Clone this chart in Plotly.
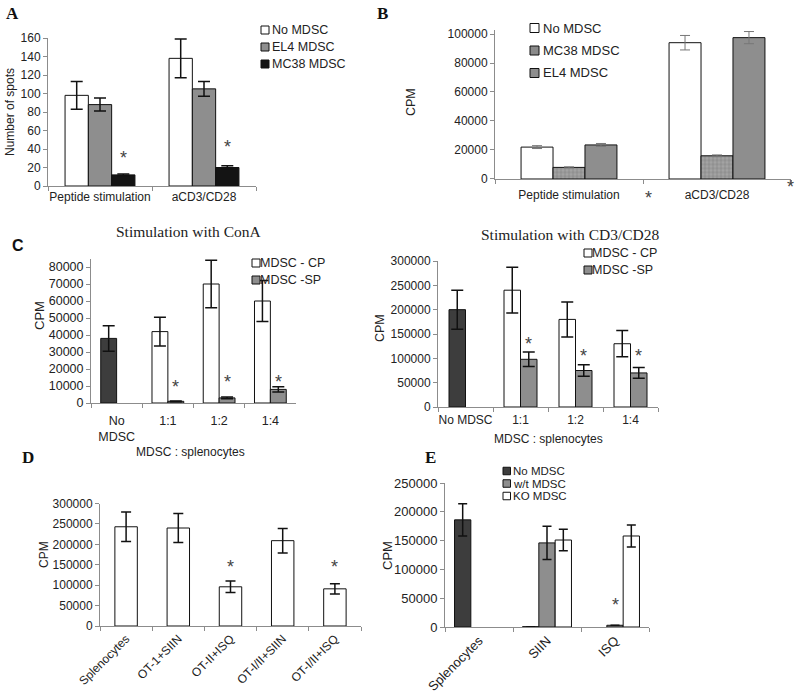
import plotly.graph_objects as go

W, H = 800, 696

# ---- data: panel A (ELISPOT) ----
a_cats = ["Peptide stimulation", "aCD3/CD28"]
a_series = ["No MDSC", "EL4 MDSC", "MC38 MDSC"]
a_no = [98, 138]
a_no_err = [15, 21]
a_el4 = [88, 105]
a_el4_err = [7, 8]
a_mc38 = [12, 20]
a_mc38_err = [1, 2]
a_star = [30, 42]

# ---- data: panel B ----
b_cats = ["Peptide stimulation", "aCD3/CD28"]
b_series = ["No MDSC", "MC38 MDSC", "EL4 MDSC"]
b_no = [22000, 94000]
b_no_err = [1000, 5000]
b_mc38 = [8000, 16000]
b_mc38_err = [400, 600]
b_el4 = [23500, 97500]
b_el4_err = [1000, 4200]

# ---- data: panel C, ConA ----
con_cats = ["No<br>MDSC", "1:1", "1:2", "1:4"]
c_series = ["MDSC - CP", "MDSC -SP"]
con_none = [38000, None, None, None]
con_none_err = [7500, 0, 0, 0]
con_cp = [None, 42000, 70000, 60000]
con_cp_err = [0, 8500, 14000, 12000]
con_sp = [None, 1000, 3000, 8000]
con_sp_err = [0, 200, 500, 1500]
con_star = [None, 9400, 12300, 12300]

# ---- data: panel C, CD3/CD28 ----
cd_cats = ["No MDSC", "1:1", "1:2", "1:4"]
cd_none = [200000, None, None, None]
cd_none_err = [40000, 0, 0, 0]
cd_cp = [None, 240000, 180000, 130000]
cd_cp_err = [0, 47000, 36000, 27000]
cd_sp = [None, 98000, 75000, 70000]
cd_sp_err = [0, 15000, 12000, 11000]
cd_star = [None, 130000, 105000, 105000]

# ---- data: panel D ----
d_cats = ["Splenocytes", "OT-1+SIIN", "OT-II+ISQ", "OT-I/II+SIIN", "OT-I/II+ISQ"]
d_vals = [243000, 240000, 96000, 209000, 91000]
d_err = [36000, 35500, 14000, 30000, 12500]
d_star = [None, None, 145000, None, 145000]

# ---- data: panel E ----
e_cats = ["Splenocytes", "SIIN", "ISQ"]
e_series = ["No MDSC", "w/t MDSC", "KO MDSC"]
e_no = [186000, 500, None]
e_no_err = [28000, 0, 0]
e_wt = [None, 146000, 3000]
e_wt_err = [0, 29000, 0]
e_ko = [None, 151000, 158000]
e_ko_err = [0, 18500, 19000]
e_star = [None, None, 38000]

WHITE = "#ffffff"
GRAY = "#8e8e8e"
DARK = "#3d3d3d"
BLACK = "#141414"
HATCH = "#8a8a8a"
SANS = "Liberation Sans"
SERIF = "Liberation Serif"


def px(x):
    return x / W


def py(y):
    return 1 - y / H


def xdom(left, right):
    return [px(left), px(right)]


def ydom(zero_px, tick_px, tick_val, rmax):
    ppu = (zero_px - tick_px) / tick_val
    return [py(zero_px), py(zero_px - rmax * ppu)]


def bar(x, y, err, color, name, xa, ya, width, offset,
        ecol="#111", ethick=1.5, ecap=6, pattern=None):
    return go.Bar(
        x=x, y=y, name=name, xaxis=xa, yaxis=ya, width=width, offset=offset,
        marker=dict(color=color, line=dict(color="#111", width=1),
                    pattern=pattern or {}),
        error_y=dict(type="data", array=err, color=ecol, thickness=ethick, width=ecap),
        showlegend=False,
    )


fig = go.Figure()

# A
wa = 0.224
fig.add_trace(bar(a_cats, a_no, a_no_err, WHITE, a_series[0], "x", "y", wa, -1.5 * wa))
fig.add_trace(bar(a_cats, a_el4, a_el4_err, GRAY, a_series[1], "x", "y", wa, -0.5 * wa))
fig.add_trace(bar(a_cats, a_mc38, a_mc38_err, BLACK, a_series[2], "x", "y", wa, 0.5 * wa))

# B
wb = 0.216
bkw = dict(ecol="#777", ethick=1, ecap=5)
fig.add_trace(bar(b_cats, b_no, b_no_err, WHITE, b_series[0], "x2", "y2", wb, -1.5 * wb, **bkw))
fig.add_trace(bar(b_cats, b_mc38, b_mc38_err, "#a3a3a3", b_series[1], "x2", "y2", wb, -0.5 * wb,
                  pattern=dict(shape="+", size=4, solidity=0.25, fgcolor="#555"), **bkw))
fig.add_trace(bar(b_cats, b_el4, b_el4_err, GRAY, b_series[2], "x2", "y2", wb, 0.5 * wb, **bkw))

# C left
wc = 0.31
fig.add_trace(bar(con_cats, con_none, con_none_err, DARK, "No MDSC", "x3", "y3", wc, -wc))
fig.add_trace(bar(con_cats, con_cp, con_cp_err, WHITE, c_series[0], "x3", "y3", wc, -wc))
fig.add_trace(bar(con_cats, con_sp, con_sp_err, GRAY, c_series[1], "x3", "y3", wc, 0))

# C right
wd = 0.30
fig.add_trace(bar(cd_cats, cd_none, cd_none_err, DARK, "No MDSC", "x4", "y4", wd, -wd))
fig.add_trace(bar(cd_cats, cd_cp, cd_cp_err, WHITE, c_series[0], "x4", "y4", wd, -wd))
fig.add_trace(bar(cd_cats, cd_sp, cd_sp_err, GRAY, c_series[1], "x4", "y4", wd, 0))

# D
we = 0.43
fig.add_trace(bar(d_cats, d_vals, d_err, WHITE, "D", "x5", "y5", we, -we / 2, ecap=5))

# E
wf = 0.24
fig.add_trace(bar(e_cats, e_no, e_no_err, DARK, e_series[0], "x6", "y6", wf, -1.5 * wf, ecap=4.5))
fig.add_trace(bar(e_cats, e_wt, e_wt_err, GRAY, e_series[1], "x6", "y6", wf, -0.5 * wf, ecap=4.5))
fig.add_trace(bar(e_cats, e_ko, e_ko_err, WHITE, e_series[2], "x6", "y6", wf, 0.5 * wf, ecap=4.5))

axline = "#8c8c8c"


def xaxis(dom, anchor, size=12, angle=0, standoff=0):
    return dict(domain=dom, anchor=anchor, type="category", showline=True, linecolor=axline,
                linewidth=1, ticks="outside", ticklen=4, tickcolor=axline, tickson="boundaries",
                showgrid=False, zeroline=False, fixedrange=True, automargin=False,
                ticklabelstandoff=standoff,
                tickangle=angle, tickfont=dict(family=SANS, size=size, color="#222"))


def yaxis(dom, anchor, rmax, dtick, size=12):
    return dict(domain=dom, anchor=anchor, range=[0, rmax], dtick=dtick, tickformat="d",
                showline=True, linecolor=axline, linewidth=1, ticks="outside", ticklen=4,
                tickcolor=axline, showgrid=False, zeroline=False, fixedrange=True,
                automargin=False, tickfont=dict(family=SANS, size=size, color="#222"))


layout = dict(
    width=W, height=H, autosize=False, margin=dict(l=0, r=0, t=0, b=0, pad=0),
    paper_bgcolor="white", plot_bgcolor="white", barmode="overlay", showlegend=False,
    font=dict(family=SANS, size=12, color="#222"),
    xaxis=xaxis(xdom(48, 256), "y"),
    yaxis=yaxis(ydom(186, 38, 160, 160), "x", 160, 20),
    xaxis2=xaxis(xdom(495, 791), "y2", standoff=5),
    yaxis2=yaxis(ydom(179, 34, 100000, 102500), "x2", 102500, 20000),
    xaxis3=xaxis(xdom(91, 296), "y3", 12.5, standoff=6),
    yaxis3=yaxis(ydom(403, 267, 80000, 85000), "x3", 85000, 10000, 12.5),
    xaxis4=xaxis(xdom(438, 658), "y4", standoff=2),
    yaxis4=yaxis(ydom(407, 261, 300000, 300000), "x4", 300000, 50000),
    xaxis5=xaxis(xdom(100, 361), "y5", 12, -45),
    yaxis5=yaxis(ydom(626, 503.5, 300000, 300000), "x5", 300000, 50000),
    xaxis6=xaxis(xdom(445, 649), "y6", 13, -45),
    yaxis6=yaxis(ydom(627, 483, 250000, 250000), "x6", 250000, 50000, 13),
)
fig.update_layout(**layout)

ann = []
shapes = []


def label(x, y, text, size, family=SANS, bold=False, angle=0, color="#222", anchor="center"):
    ann.append(dict(xref="paper", yref="paper", x=px(x), y=py(y), text=f"<b>{text}</b>" if bold else text,
                    showarrow=False, textangle=angle, xanchor=anchor, yanchor="middle",
                    font=dict(family=family, size=size, color=color)))


def legend(names, colors, x_box, x_text, y_first, step, size, box=8):
    for i, (n, c) in enumerate(zip(names, colors)):
        yc = y_first + i * step
        shapes.append(dict(type="rect", xref="paper", yref="paper",
                           x0=px(x_box), x1=px(x_box + box), y0=py(yc + box / 2), y1=py(yc - box / 2),
                           fillcolor=c, line=dict(color="#111", width=1)))
        label(x_text, yc, n, size, anchor="left")


legend(a_series, [WHITE, GRAY, BLACK], 261, 270, 30, 17, 12.5)
legend(b_series, [WHITE, HATCH, GRAY], 530, 541, 28, 22.5, 13, box=9)
legend(c_series, [WHITE, GRAY], 252, 258, 263, 17, 12.5)
legend(c_series, [WHITE, GRAY], 584, 590, 253, 17, 12.5)
legend(e_series, [DARK, GRAY, WHITE], 503, 511, 471, 12.5, 11.5, box=7.5)

# panel letters
label(12, 14, "A", 17, SERIF, True, color="#111")
label(382, 14, "B", 17, SERIF, True, color="#111")
label(18, 245, "C", 16, SANS, True, color="#111")
label(28, 457, "D", 17, SERIF, True, color="#111")
label(431, 457, "E", 17, SERIF, True, color="#111")

# titles
label(188, 232, "Stimulation with ConA", 15.5, SERIF)
label(570, 234, "Stimulation with CD3/CD28", 15.5, SERIF)

# axis titles
label(10, 112, "Number of spots", 12, angle=-90)
label(411, 102, "CPM", 12.5, angle=-90)
label(39, 316, "CPM", 13, angle=-90)
label(380, 328, "CPM", 12.5, angle=-90)
label(44, 555, "CPM", 12, angle=-90)
label(387, 556, "CPM", 13, angle=-90)
label(190, 452, "MDSC : splenocytes", 12)
label(548, 439, "MDSC : splenocytes", 12)

# stray asterisks in panel B
label(648, 198, "*", 18, color="#444")
label(790, 187, "*", 18, color="#444")


def stars(vals, xa, ya, shift):
    for i, v in enumerate(vals):
        if v is None:
            continue
        ann.append(dict(xref=xa, yref=ya, x=i + shift, y=v, text="*", showarrow=False,
                        xanchor="center", yanchor="middle",
                        font=dict(family=SANS, size=18, color="#444")))


stars(a_star, "x", "y", wa)
stars(con_star, "x3", "y3", wc / 2)
stars(cd_star, "x4", "y4", wd / 2)
stars(d_star, "x5", "y5", 0)
stars(e_star, "x6", "y6", 0)

fig.update_layout(annotations=ann, shapes=shapes)

# the page body has a default 8px margin; drop it so the figure sits at the window's corner
fig.write_html("out.html", config={"displayModeBar": False},
               post_script="document.body.style.margin='0';")
